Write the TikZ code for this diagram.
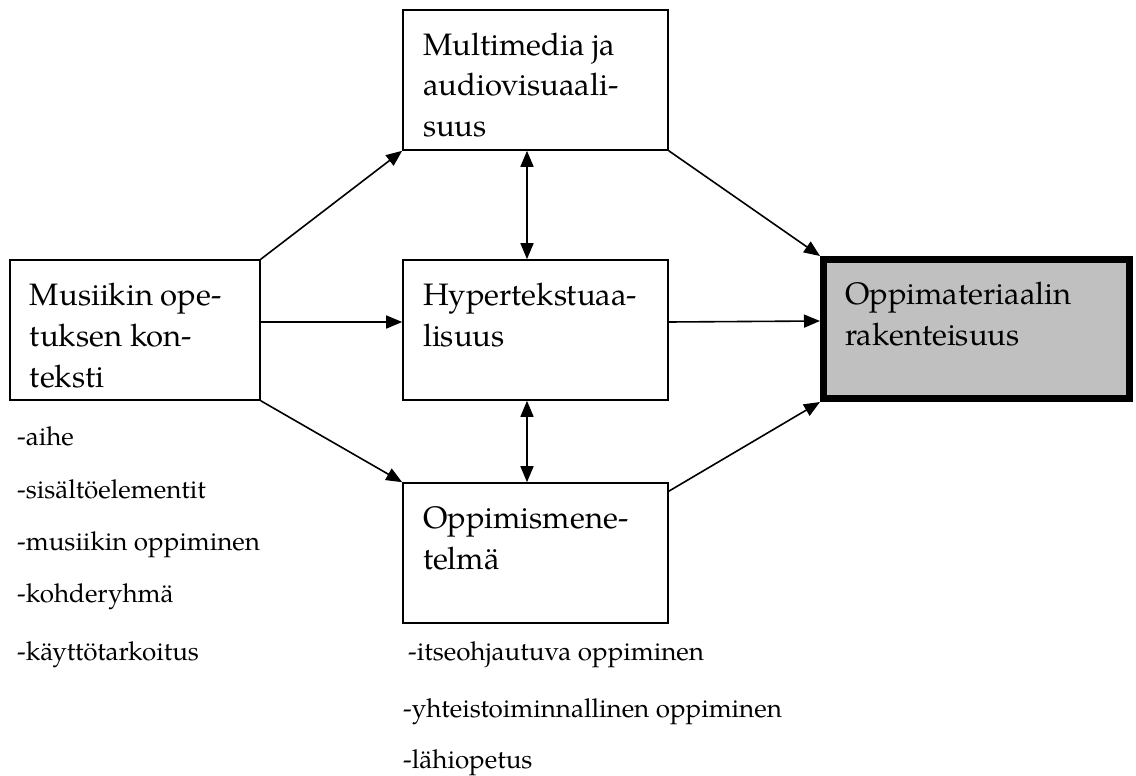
\documentclass[tikz,border=0pt]{standalone}
\usepackage{fontspec}
\setmainfont{TeX Gyre Pagella}
\usetikzlibrary{arrows.meta}
\definecolor{boxgray}{RGB}{192,192,192}

% top-aligned text block for the boxes: fixed height, first baseline 25pt down
\newcommand{\boxlines}[2][225pt]{\parbox[c][100pt][t]{#1}{\fontsize{31}{41}\selectfont\raggedright\rule{0pt}{25pt}#2}}

\begin{document}
\begin{tikzpicture}[x=1pt,y=-1pt,
  box/.style={draw, line width=1.6pt, rectangle, inner xsep=20pt, inner ysep=20pt,
              font=\fontsize{31}{41}\selectfont},
  goalbox/.style={draw, line width=7pt, fill=boxgray, rectangle, inner xsep=21.5pt,
              inner ysep=19.5pt, font=\fontsize{31}{41}\selectfont},
  item/.style={anchor=base west, inner sep=0pt, font=\fontsize{26}{30}\selectfont},
  conn/.style={line width=1.6pt, -{Triangle[length=16pt,width=13pt]}},
  both/.style={line width=1.6pt, {Triangle[length=16pt,width=13pt]}-{Triangle[length=16pt,width=13pt]}}]
\useasboundingbox (0,0) rectangle (1136,776);

% boxes
\node[box] (mus) at (135,330) {\boxlines[210pt]{Musiikin ope-\\tuksen kon-\\teksti}};
\node[box] (mm)  at (535.5,80) {\boxlines{Multimedia ja\\audiovisuaali-\\suus}};
\node[box] (hy)  at (535.5,330) {\boxlines{Hypertekstuaa-\\lisuus}};
\node[box] (op)  at (535.5,553) {\boxlines{Oppimismene-\\telmä}};
\node[goalbox] (om) at (976.5,329) {\boxlines[263pt]{Oppimateriaalin\\rakenteisuus}};

% connectors
\draw[conn] (mus.north east) -- (mm.south west);
\draw[conn] ([yshift=8pt]mus.east) -- ([yshift=8pt]hy.west);
\draw[conn] (mus.south east) -- (op.north west);
\draw[conn] (mm.south east) -- (om.north west);
\draw[conn] ([yshift=8pt]hy.east) -- ([yshift=8pt]om.west);
\draw[conn] ([yshift=-9pt]op.north east) -- (om.south west);
\draw[both] ([xshift=-8.5pt]mm.south) -- ([xshift=-8.5pt]hy.north);
\draw[both] ([xshift=-8.5pt]hy.south) -- ([xshift=-8.5pt]op.north);

% context items
\node[item] (c1) at (17,445) {-aihe};
\node[item] (c2) at (17,498) {-sisältöelementit};
\node[item] (c3) at (17,550) {-musiikin oppiminen};
\node[item] (c4) at (17,602) {-kohderyhmä};
\node[item] (c5) at (17,660) {-käyttötarkoitus};

% method items
\node[item] (m1) at (408,660) {-itseohjautuva oppiminen};
\node[item] (m2) at (403,717) {-yhteistoiminnallinen oppiminen};
\node[item] (m3) at (403,768) {-lähiopetus};
\end{tikzpicture}
\end{document}
